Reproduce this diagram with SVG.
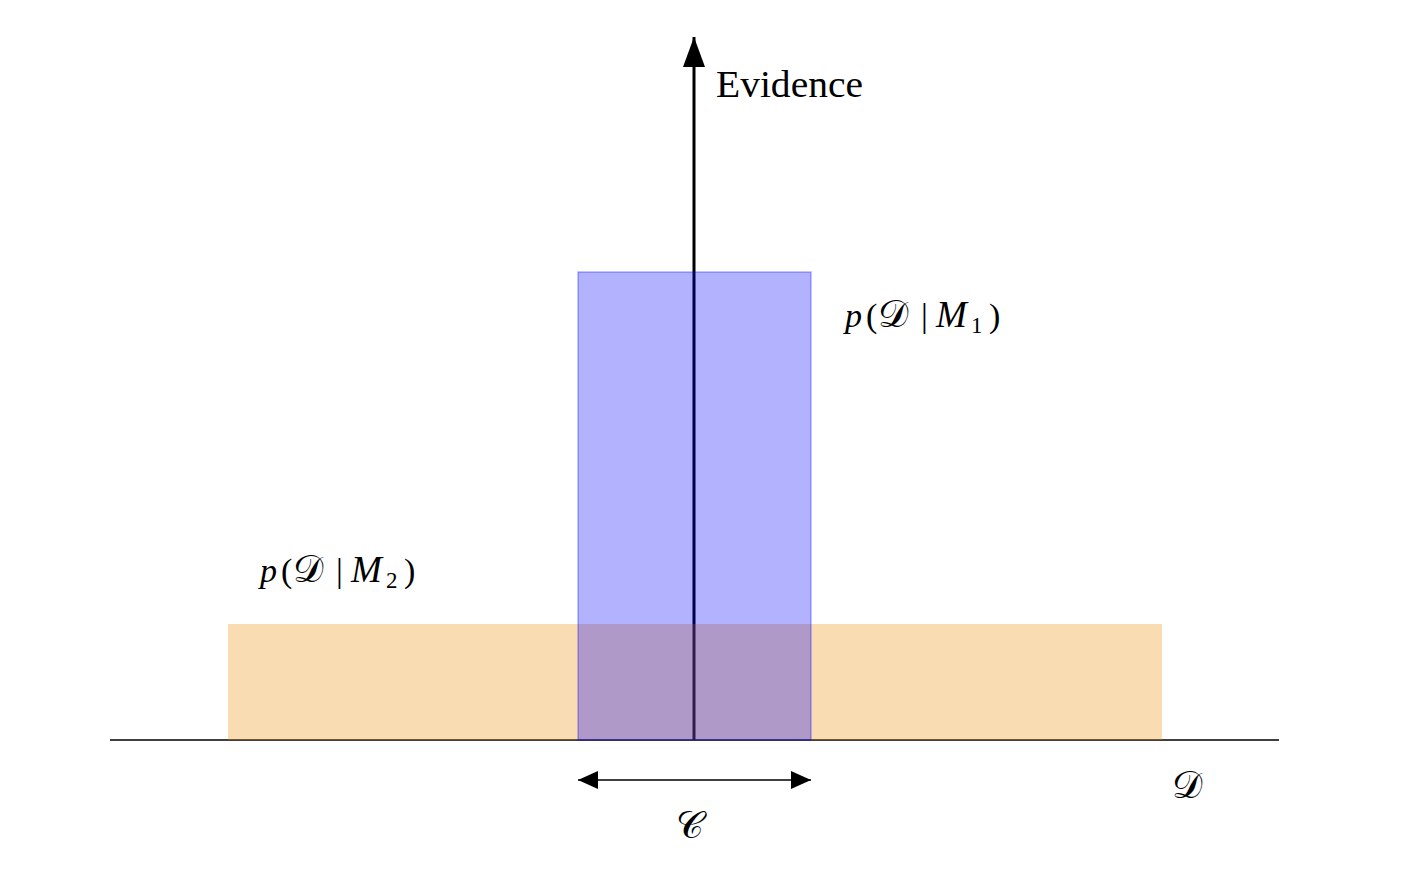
<svg xmlns="http://www.w3.org/2000/svg" width="1406" height="872" viewBox="0 0 1406 872">
<defs>
<style>
.m{font-family:"Liberation Serif","DejaVu Serif",serif;font-size:34px;fill:#000}
.it{font-style:italic}
.big{font-size:37px}
.cal{font-family:"DejaVu Serif","Liberation Serif",serif;font-size:38px}
.sub{font-size:23px}
</style>
<marker id="ah" viewBox="0 0 20 20" refX="20" refY="10" markerWidth="20" markerHeight="20" markerUnits="userSpaceOnUse" orient="auto-start-reverse"><path d="M0,1 L20,10 L0,19 Z" fill="#000"/></marker>
<marker id="ah2" viewBox="0 0 30 24" refX="30" refY="12" markerWidth="30" markerHeight="24" markerUnits="userSpaceOnUse" orient="auto"><path d="M0,1 L30,12 L0,23 Z" fill="#000"/></marker>
</defs>
<rect width="1406" height="872" fill="#fff"/>
<g id="axes">
<line x1="110" y1="740" x2="1279" y2="740" stroke="#000" stroke-width="1.5"/>
<line x1="694" y1="740" x2="694" y2="37" stroke="#000" stroke-width="3" marker-end="url(#ah2)"/>
</g>
<g id="m2-box"><rect x="228" y="624" width="934" height="116" fill="#ea8a00" fill-opacity="0.3"/></g>
<g id="m1-box"><rect x="578" y="272" width="233" height="468" fill="#0000ff" fill-opacity="0.3" stroke="#0000ff" stroke-opacity="0.3" stroke-width="1.5"/></g>
<g id="connectors">
<line x1="578" y1="780" x2="811" y2="780" stroke="#000" stroke-width="1.5" marker-start="url(#ah)" marker-end="url(#ah)"/>
</g>
<g id="evidence-label"><text x="716" y="97" font-family="Liberation Serif, serif" font-size="38" textLength="147" lengthAdjust="spacingAndGlyphs">Evidence</text></g>
<g id="m1-label"><text class="m" y="327"><tspan class="it" x="845">p</tspan><tspan x="866">(</tspan><tspan class="cal" x="878">𝒟</tspan><tspan x="921">|</tspan><tspan class="it big" x="936">M</tspan><tspan class="sub" x="971" dy="6">1</tspan><tspan x="989" dy="-6">)</tspan></text></g>
<g id="m2-label"><text class="m" y="582"><tspan class="it" x="260">p</tspan><tspan x="281">(</tspan><tspan class="cal" x="293">𝒟</tspan><tspan x="336">|</tspan><tspan class="it big" x="351">M</tspan><tspan class="sub" x="386" dy="6">2</tspan><tspan x="404" dy="-6">)</tspan></text></g>
<g id="d-label"><text class="m cal" x="1172" y="798">𝒟</text></g>
<g id="c-label"><text class="m cal" x="676" y="838">𝒞</text></g>
</svg>
